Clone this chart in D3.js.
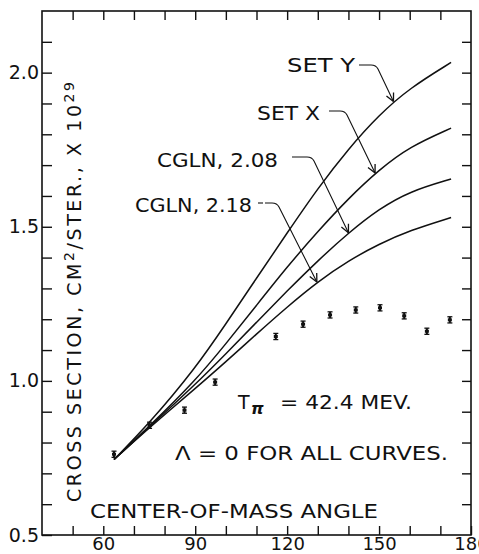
<!DOCTYPE html>
<html>
<head>
<meta charset="utf-8">
<script src="https://cdn.jsdelivr.net/npm/d3@7"></script>
<style>
  body { margin: 0; background: #fff; }
  svg { display: block; }
  text { font-family: "DejaVu Sans", sans-serif; fill: #111; }
</style>
</head>
<body>
<svg id="chart" width="479" height="554"></svg>
<script>
// curve sample angles (deg) and theoretical cross sections (x 10^-29 cm2/ster)
const curveAngles = [63.5, 75, 90, 100, 110, 120, 130, 140, 150, 160, 173.5];
const setY    = [0.745, 0.862, 1.04, 1.185, 1.333, 1.48, 1.625, 1.753, 1.863, 1.95, 2.033];
const setX    = [0.745, 0.852, 1.0, 1.12, 1.245, 1.37, 1.485, 1.592, 1.685, 1.76, 1.82];
const cgln208 = [0.745, 0.85, 0.988, 1.088, 1.19, 1.292, 1.39, 1.48, 1.558, 1.615, 1.655];
const cgln218 = [0.745, 0.848, 0.975, 1.062, 1.152, 1.24, 1.322, 1.39, 1.444, 1.488, 1.53];
const curveNames = ["SET Y", "SET X", "CGLN, 2.08", "CGLN, 2.18"];
const arrowAngles = [154.7, 148.7, 140, 129.7];

// measured points
const dataAngles = [63.5, 75.1, 86.5, 96.5, 116.3, 125.2, 134, 142.4, 150.3, 158.2, 165.6, 173.1];
const dataValues = [0.762, 0.856, 0.905, 0.996, 1.144, 1.184, 1.214, 1.23, 1.237, 1.211, 1.161, 1.198];
const dataErrors = [0.01, 0.01, 0.01, 0.01, 0.01, 0.01, 0.01, 0.01, 0.01, 0.01, 0.01, 0.01];

const xTickLabels = [60, 90, 120, 150, 180];
const yTickLabels = [0.5, 1.0, 1.5, 2.0];

const svg = d3.select("#chart");
svg.append("rect").attr("width", 479).attr("height", 554).attr("fill", "#fff");

const x = d3.scaleLinear().domain([40, 180]).range([42, 471]);
const y = d3.scaleLinear().domain([0.5, 2.2]).range([535, 11]);

const xTicks = d3.range(50, 181, 10);
const yTicks = d3.range(5, 22).map(d => d / 10);

// axes (ticks pointing inward)
const styleAxis = (g) => {
  g.select(".domain").remove();
  g.selectAll(".tick line").attr("stroke", "#111").attr("stroke-width", 1.4);
  g.selectAll("text").attr("font-family", "DejaVu Sans").attr("font-size", 19).attr("fill", "#111");
};

svg.append("g")
  .attr("transform", "translate(0,535)")
  .call(d3.axisBottom(x).tickValues(xTicks).tickSize(-9).tickPadding(2)
    .tickFormat(d => xTickLabels.includes(d) ? d : ""))
  .call(styleAxis)
  .call(g => g.selectAll("text").attr("font-size", 18));

svg.append("g")
  .attr("transform", "translate(0,11)")
  .call(d3.axisTop(x).tickValues(xTicks.slice(0, -1)).tickSize(-9).tickFormat(""))
  .call(styleAxis);

svg.append("g")
  .attr("transform", "translate(42,0)")
  .call(d3.axisLeft(y).tickValues(yTicks).tickSize(-10).tickPadding(3)
    .tickFormat(d => yTickLabels.some(v => Math.abs(v - d) < 1e-6) ? d3.format(".1f")(d) : ""))
  .call(styleAxis);

svg.append("g")
  .attr("transform", "translate(471,0)")
  .call(d3.axisRight(y).tickValues(yTicks.slice(1)).tickSize(-9).tickFormat(""))
  .call(styleAxis);

// frame
svg.append("rect")
  .attr("x", 42).attr("y", 11).attr("width", 429).attr("height", 524)
  .attr("fill", "none").attr("stroke", "#111").attr("stroke-width", 1.6);

// theory curves
const line = d3.line()
  .x((d, i) => x(curveAngles[i]))
  .y(d => y(d))
  .curve(d3.curveBasis);

const series = [setY, setX, cgln208, cgln218];
const paths = svg.append("g").selectAll("path")
  .data(series)
  .join("path")
  .attr("d", line)
  .attr("fill", "none")
  .attr("stroke", "#111")
  .attr("stroke-width", 1.5);

// find the y pixel of a path at a given x pixel
function yOnPath(node, px) {
  const len = node.getTotalLength();
  let best = null;
  for (let l = 0; l <= len; l += 0.5) {
    const p = node.getPointAtLength(l);
    if (!best || Math.abs(p.x - px) < Math.abs(best.x - px)) best = p;
  }
  return best.y;
}

// measured points with error bars
const pts = svg.append("g").selectAll("g")
  .data(dataAngles.map((a, i) => ({ a, v: dataValues[i], e: dataErrors[i] })))
  .join("g");
pts.append("line")
  .attr("x1", d => x(d.a)).attr("x2", d => x(d.a))
  .attr("y1", d => y(d.v + d.e)).attr("y2", d => y(d.v - d.e))
  .attr("stroke", "#111").attr("stroke-width", 2);
pts.append("line")
  .attr("x1", d => x(d.a) - 2.5).attr("x2", d => x(d.a) + 2.5)
  .attr("y1", d => y(d.v + d.e)).attr("y2", d => y(d.v + d.e))
  .attr("stroke", "#111").attr("stroke-width", 1.3);
pts.append("line")
  .attr("x1", d => x(d.a) - 2.5).attr("x2", d => x(d.a) + 2.5)
  .attr("y1", d => y(d.v - d.e)).attr("y2", d => y(d.v - d.e))
  .attr("stroke", "#111").attr("stroke-width", 1.3);
pts.append("rect")
  .attr("x", d => x(d.a) - 2).attr("y", d => y(d.v) - 1.5)
  .attr("width", 4).attr("height", 3).attr("fill", "#111");

// curve labels with leader arrows
const labelLayout = [
  { tx: 287, ty: 72, len: 68, lx0: 359, lx1: 371, ly: 65 },
  { tx: 257, ty: 120, len: 63, lx0: 329, lx1: 340, ly: 111 },
  { tx: 157, ty: 167, len: 121, lx0: 292, lx1: 307, ly: 157 },
  { tx: 135, ty: 212, len: 117, lx0: 265, lx1: 272, ly: 203 }
];

const ann = svg.append("g");
curveNames.forEach((name, i) => {
  const L = labelLayout[i];
  ann.append("text")
    .attr("x", L.tx).attr("y", L.ty)
    .attr("font-size", 19)
    .attr("textLength", L.len).attr("lengthAdjust", "spacingAndGlyphs")
    .text(name);

  const tipX = x(arrowAngles[i]);
  const tipY = yOnPath(paths.nodes()[i], tipX) - 1;
  const leader = d3.path();
  leader.moveTo(L.lx0, L.ly);
  leader.lineTo(L.lx1, L.ly);
  leader.quadraticCurveTo(L.lx1 + 5, L.ly, L.lx1 + 7, L.ly + 4);
  leader.lineTo(tipX, tipY);
  ann.append("path").attr("d", leader.toString())
    .attr("fill", "none").attr("stroke", "#111").attr("stroke-width", 1.1);

  // arrow head
  const dx = tipX - (L.lx1 + 7), dy = tipY - (L.ly + 4);
  const ang = Math.atan2(dy, dx);
  const head = d3.path();
  [0.45, -0.45].forEach(off => {
    head.moveTo(tipX, tipY);
    head.lineTo(tipX - 9 * Math.cos(ang + off), tipY - 9 * Math.sin(ang + off));
  });
  ann.append("path").attr("d", head.toString())
    .attr("fill", "none").attr("stroke", "#111").attr("stroke-width", 1.3);
});
// small dash before the last leader
ann.append("line").attr("x1", 258).attr("x2", 263).attr("y1", 203).attr("y2", 203)
  .attr("stroke", "#111").attr("stroke-width", 1.1);

// notes
ann.append("text").attr("x", 238).attr("y", 409).attr("font-size", 19).text("T");
ann.append("text").attr("x", 251).attr("y", 414).attr("font-size", 16)
  .attr("font-style", "italic").attr("font-weight", "bold").text("π");
ann.append("text").attr("x", 280).attr("y", 409).attr("font-size", 19)
  .attr("textLength", 132).attr("lengthAdjust", "spacingAndGlyphs").text("= 42.4 MEV.");
ann.append("text").attr("x", 175).attr("y", 460).attr("font-size", 19)
  .attr("textLength", 273).attr("lengthAdjust", "spacingAndGlyphs").text("Λ = 0 FOR ALL CURVES.");

// axis titles
ann.append("text").attr("x", 90).attr("y", 518).attr("font-size", 19)
  .attr("textLength", 288).attr("lengthAdjust", "spacingAndGlyphs").text("CENTER-OF-MASS ANGLE");

const yTitle = ann.append("text")
  .attr("transform", "translate(81,292) rotate(-90)")
  .attr("text-anchor", "middle")
  .attr("font-size", 19)
  .attr("textLength", 420).attr("lengthAdjust", "spacing");
yTitle.append("tspan").text("CROSS SECTION, CM");
yTitle.append("tspan").attr("dy", -7).attr("font-size", 14).text("2");
yTitle.append("tspan").attr("dy", 7).text("/STER., X 10");
yTitle.append("tspan").attr("dy", -7).attr("font-size", 14).text("29");
</script>
</body>
</html>
